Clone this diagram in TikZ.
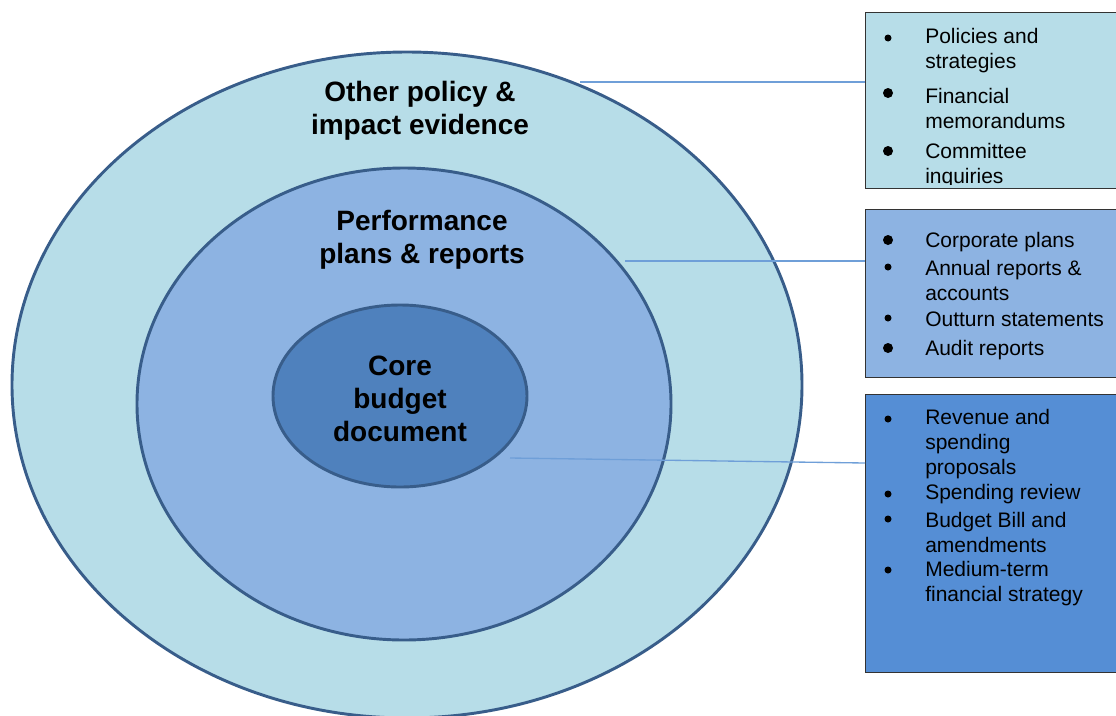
\documentclass[tikz,border=0pt]{standalone}
\usepackage{fontspec}
\setmainfont{Liberation Sans}
\definecolor{outerfill}{HTML}{B7DDE8}
\definecolor{midfill}{HTML}{8DB3E2}
\definecolor{corefill}{HTML}{4F81BD}
\definecolor{deepfill}{HTML}{558ED5}
\definecolor{ringline}{HTML}{385D8A}
\definecolor{linkline}{HTML}{6F9FD8}
\begin{document}
\begin{tikzpicture}[x=0.75pt,y=-0.75pt,
    ring/.style={draw=ringline, line width=2.2pt},
    heading/.style={font=\fontsize{21}{24.75}\selectfont\bfseries, align=center, inner sep=0pt},
    listbox/.style={draw=black!80, line width=1.1pt, anchor=north west, minimum width=191.25pt},
    entry/.style={font=\fontsize{15.75}{18.75}\selectfont, align=left, anchor=west, inner sep=0pt},
    link/.style={draw=linkline, line width=1pt}]
  \useasboundingbox (0,0) rectangle (1116,715);

  % Draw the three rings
  \draw[ring, fill=outerfill] (407,385) ellipse [x radius=395, y radius=333];
  \draw[ring, fill=midfill] (404,404) ellipse [x radius=267, y radius=236];
  \draw[ring, fill=corefill] (400,396) ellipse [x radius=127, y radius=91];

  % Ring labels
  \node[heading] (outertitle) at (420,111) {Other policy \&\\impact evidence};
  \node[heading] (midtitle) at (422,240) {Performance\\plans \& reports};
  \node[heading] (coretitle) at (400,399) {Core\\budget\\document};

  % The three boxes
  \node[listbox, fill=outerfill, minimum height=132pt] (box1) at (865,12) {};
  \node[listbox, fill=midfill, minimum height=126pt] (box2) at (865,209) {};
  \node[listbox, fill=deepfill, minimum height=208.5pt] (box3) at (865,394) {};

  % Box 1 items
  \begin{scope}
    \clip (box1.north west) rectangle ([yshift=4pt]box1.south east);
    \node[entry] (pol) at (925,51) {Policies and\\strategies};
    \node[entry] (fin) at (925,108) {Financial\\memorandums};
    \node[entry] (com) at (925,166) {Committee\\inquiries};
  \end{scope}
  \fill (888,38) circle (3.5);
  \fill (888,93) circle (5);
  \fill (888,151) circle (5);

  % Box 2 items
  \node[entry] (corp) at (925,242) {Corporate plans};
  \node[entry] (annual) at (925,280) {Annual reports \&\\accounts};
  \node[entry] (outturn) at (925,319) {Outturn statements};
  \node[entry] (audit) at (925,350) {Audit reports};
  \fill (888,240) circle (5);
  \fill (888,267) circle (3.5);
  \fill (888,318) circle (3.5);
  \fill (888,348) circle (5);

  % Box 3 items
  \node[entry] (rev) at (925,444) {Revenue and\\spending\\proposals};
  \node[entry] (spend) at (925,494) {Spending review};
  \node[entry] (bill) at (925,532) {Budget Bill and\\amendments};
  \node[entry] (medium) at (925,584) {Medium-term\\financial strategy};
  \fill (888,419) circle (3.5);
  \fill (888,494) circle (3.5);
  \fill (888,519) circle (3.5);
  \fill (888,570) circle (3.5);

  % Connectors from the rings to the boxes
  \coordinate (c1) at (580,82);
  \coordinate (c2) at (625,261);
  \coordinate (c3) at (510,458);
  \coordinate (e3) at (865,463);
  \draw[link] (c1) -- (c1 -| box1.west);
  \draw[link] (c2) -- (c2 -| box2.west);
  \draw[link] (c3) -- (e3);
\end{tikzpicture}
\end{document}
